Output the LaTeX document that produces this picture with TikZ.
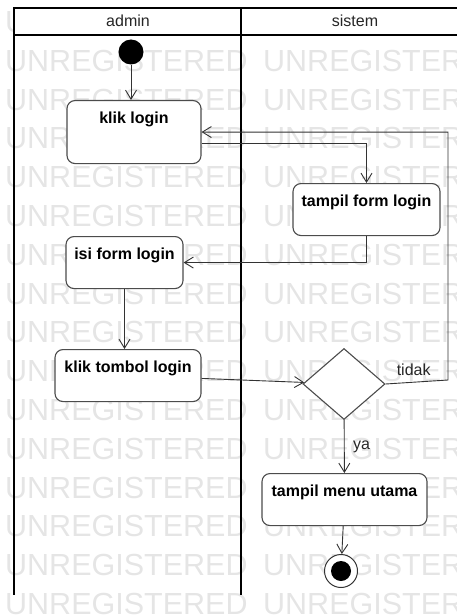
\documentclass[tikz,border=0pt]{standalone}
\usepackage{fontspec}
\setmainfont{Liberation Sans}
\usetikzlibrary{arrows.meta, shapes.geometric, positioning}

\tikzset{
	aksi/.style={draw=black!70, line width=1.1pt, fill=white, rounded corners=8pt,
		font=\fontsize{16}{19}\selectfont\bfseries, text height=12pt, text depth=18pt,
		inner ysep=11pt, inner xsep=0pt, anchor=north},
	alur/.style={draw=black!80, line width=0.9pt,
		-{Straight Barb[length=9pt, width=11pt, line width=0.9pt]}},
	jalur/.style={line width=2.2pt, black},
	tanda/.style={text=black!10, font=\fontsize{30.5}{31}\selectfont, anchor=west, inner sep=0pt},
	teks/.style={font=\fontsize{16}{19}\selectfont, text=black!85}
}

\begin{document}
\begin{tikzpicture}[x=1pt, y=-1pt]
			\useasboundingbox (0,0) rectangle (457,615);
			
			%% Watermark
			\foreach \r in {0,...,15}{
				\node[tanda] (wm\r a) at (5, 22+38.8*\r) {UNREGISTERED};
				\node[tanda] (wm\r b) at (263, 22+38.8*\r) {UNREGISTERED};
			}
			
			%% Swimlane
			\fill[white] (14,8) rectangle (460,35);
			\draw[jalur] (460,8) -- (14,8) -- (14,595);
			\draw[jalur] (14,35) -- (460,35);
			\draw[jalur] (241,8) -- (241,595);
			\node[teks] (admin) at (128,21) {admin};
			\node[teks] (sistem) at (355,21) {sistem};
			
			%% Awal
			\node[circle, fill=black, minimum size=25pt, inner sep=0pt] (mulai) at (131,52) {};
			
			%% Aktivitas
			\node[aksi, minimum width=134pt, text depth=29pt] (klik) at (134,100) {klik login};
			\node[aksi, minimum width=147pt] (form) at (366.5,183) {tampil form login};
			\node[aksi, minimum width=117pt] (isi) at (124.5,236) {isi form login};
			\node[aksi, minimum width=146pt] (tombol) at (128,349) {klik tombol login};
			\node[diamond, draw=black!70, line width=1.1pt, fill=white,
				minimum width=82pt, minimum height=71pt, inner sep=0pt] (cek) at (344,384) {};
			\node[aksi, minimum width=165pt] (menu) at (344.5,473) {tampil menu utama};
			
			%% Akhir
			\node[circle, draw=black!80, line width=1pt, fill=white, minimum size=33pt,
				inner sep=0pt] (selesai) at (341,571) {};
			\fill[black] (selesai) circle [radius=10pt];
			
			%% Alur
			\draw[alur] (mulai) -- (mulai |- klik.north);
			\draw[alur] ([yshift=-11.5pt]klik.east) -| (form);
			\draw[alur] (form) |- (isi);
			\draw[alur] (isi.south) -- (isi.south |- tombol.north);
			\draw[alur] (tombol) -- (cek);
			
			%% tidak
			\coordinate (belok) at (448,380);
			\draw[alur] (cek.east) -- node[teks, above=3pt, pos=0.45] (tidak) {tidak} (belok) |- (klik.east);
			
			%% ya
			\draw[alur] (cek) -- node[teks, right=5pt] (ya) {ya} (menu);
			\draw[alur] (menu) -- (selesai);
		\end{tikzpicture}
\end{document}
